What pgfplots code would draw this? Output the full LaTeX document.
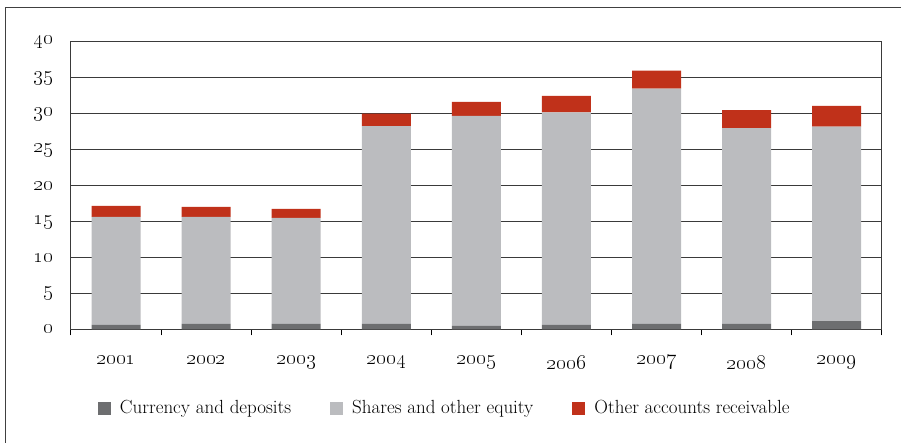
\RequirePackage{fix-cm}
\documentclass[border=0pt]{standalone}
\usepackage{pgfplots}
\usepackage{pgfplotstable}
\pgfplotsset{compat=1.18}
\definecolor{cdark}{HTML}{6D6E70}
\definecolor{clight}{HTML}{BBBCBF}
\definecolor{cred}{HTML}{C0311A}
\definecolor{gridc}{HTML}{3A3A3A}
\pgfplotstableread{
x dark light red
0 0.60 15.04 1.53
1 0.75 14.89 1.39
2 0.75 14.75 1.25
3 0.74 27.56 1.73
4 0.46 29.24 1.96
5 0.60 29.60 2.30
6 0.75 32.75 2.50
7 0.75 27.25 2.50
8 1.15 27.05 2.90
}\datatable
\begin{document}
\fontsize{19}{23}\selectfont
\begin{tikzpicture}
\useasboundingbox (-71pt,-113.7pt) rectangle (830pt,329.3pt);
\draw[black!75, line width=1pt] (-65pt,-113.7pt) -- (-65pt,321.3pt) -- (830pt,321.3pt);
\begin{axis}[
  scale only axis,
  width=810.7pt, height=287.3pt,
  ybar stacked,
  bar width=49pt,
  xmin=-0.5, xmax=8.5,
  ymin=0, ymax=40,
  xtick={-0.5,0.5,...,8.5},
  x tick label as interval,
  xticklabels={\oldstylenums{2001},\oldstylenums{2002},\oldstylenums{2003},\oldstylenums{2004},\oldstylenums{2005},\oldstylenums{2006},\oldstylenums{2007},\oldstylenums{2008},\oldstylenums{2009}},
  ytick={0,5,...,40},
  yticklabels={\oldstylenums{0},\oldstylenums{5},\oldstylenums{10},\oldstylenums{15},\oldstylenums{20},\oldstylenums{25},\oldstylenums{30},\oldstylenums{35},\oldstylenums{40}},
  xtick pos=bottom,
  ytick pos=left,
  tick align=outside,
  major tick length=6pt,
  x tick style={black, line width=1pt},
  y tick style={draw=none},
  xticklabel style={font=\fontsize{21}{25}\selectfont, yshift=-14pt},
  yticklabel style={font=\fontsize{21}{25}\selectfont, anchor=east, xshift=-5pt},
  ymajorgrids,
  grid style={gridc, line width=1pt},
  axis line style={gridc, line width=1pt},
  legend columns=3,
  legend style={draw=none, fill=none, at={(0.033,-0.274)}, anchor=west,
    inner sep=0pt,
    font=\fontsize{19}{23}\selectfont,
    /tikz/every odd column/.append style={column sep=7pt},
    /tikz/every even column/.append style={column sep=37pt}},
  legend image code/.code={\fill[#1] (0pt,-6.5pt) rectangle (13pt,6.5pt);},
]
\addplot[fill=cdark, draw=none] table[x=x, y=dark] {\datatable};
\addplot[fill=clight, draw=none] table[x=x, y=light] {\datatable};
\addplot[fill=cred, draw=none] table[x=x, y=red] {\datatable};
\legend{Currency and deposits, Shares and other equity, Other accounts receivable}
\end{axis}
\end{tikzpicture}
\end{document}
